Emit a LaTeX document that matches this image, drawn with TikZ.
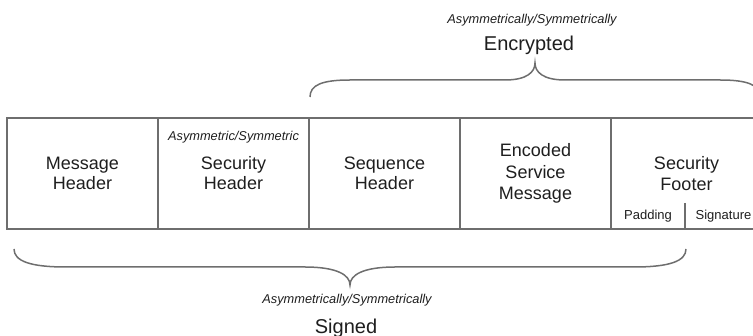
\documentclass[tikz,border=0pt]{standalone}
\usepackage{fontspec}
\setmainfont{Liberation Sans}
\usetikzlibrary{positioning,calc}
\definecolor{rule}{HTML}{6E6E6E}
\definecolor{ink}{HTML}{1E1E1E}
\tikzset{
  field/.style={draw=rule,line width=1.5pt,minimum width=151pt,minimum height=111pt,inner sep=0pt,outer sep=0pt,align=center,text=ink,font=\fontsize{18}{20}\selectfont},
  lfield/.style={field,font=\fontsize{18}{21.5}\selectfont},
  mode/.style={font=\fontsize{12.8}{14}\selectfont\itshape,text=ink,inner sep=0pt},
  part/.style={font=\fontsize{13}{15}\selectfont,text=ink,inner sep=0pt,outer sep=0pt,minimum height=26pt},
  big/.style={font=\fontsize{20}{22}\selectfont,text=ink,inner sep=0pt},
  wire/.style={draw=rule,line width=1.5pt},
}
\begin{document}
\begin{tikzpicture}[x=1pt,y=-1pt]
\useasboundingbox (0,0) rectangle (753,336);
\clip (0,0) rectangle (753,336);
% chunk fields
\node[field] (msg) at (82.5,173.5) {Message\\Header};
\node[field,right=0pt of msg] (sec) {Security\\Header};
\node[field,right=0pt of sec] (seq) {Sequence\\Header};
\node[lfield,right=0pt of seq] (body) {Encoded\\Service\\Message};
\node[lfield,right=0pt of body] (foot) {Security\\Footer};
\node[mode] (secmode) at ($(sec.north)+(0,19)$) {Asymmetric/Symmetric};
% footer parts
\node[part,minimum width=74pt,anchor=south west] (pad) at (foot.south west) {Padding};
\node[part,minimum width=77pt,right=0pt of pad] (sig) {Signature};
\draw[wire] (pad.north east) -- (pad.south east);
% encrypted brace
\coordinate (encL) at ($(seq.north west)+(1,-21)$);
\coordinate (encR) at ($(foot.north east)+(-2,-21)$);
\coordinate (enctip) at ($(encL)!0.5!(encR)+(0,-34)$);
\draw[wire] (encL) .. controls +(0,-12) and +(-28,0) .. ($(encL)+(40,-17)$)
  -- ($(enctip)+(-30,17)$) .. controls +(22,0) and +(0,9) .. (enctip)
  .. controls +(0,9) and +(-22,0) .. ($(enctip)+(30,17)$)
  -- ($(encR)+(-40,-17)$) .. controls +(28,0) and +(0,-12) .. (encR);
\node[big] (enc) at ($(enctip)+(-6,-18)$) {Encrypted};
\node[mode] (encmode) at ($(enctip)+(-3,-43)$) {Asymmetrically/Symmetrically};
% signed brace
\coordinate (sgnL) at ($(msg.south west)+(7,20)$);
\coordinate (sgnR) at ($(pad.south east)+(1,20)$);
\coordinate (sgntip) at ($(sgnL)!0.5!(sgnR)+(0,36)$);
\draw[wire] (sgnL) .. controls +(0,12) and +(-36,0) .. ($(sgnL)+(52,18)$)
  -- ($(sgntip)+(-45,-18)$) .. controls +(32,0) and +(0,-10) .. (sgntip)
  .. controls +(0,-10) and +(-32,0) .. ($(sgntip)+(45,-18)$)
  -- ($(sgnR)+(-52,18)$) .. controls +(36,0) and +(0,12) .. (sgnR);
\node[mode] (sgnmode) at ($(sgntip)+(-3,15)$) {Asymmetrically/Symmetrically};
\node[big] (sgn) at ($(sgntip)+(-4,43)$) {Signed};
\end{tikzpicture}
\end{document}
